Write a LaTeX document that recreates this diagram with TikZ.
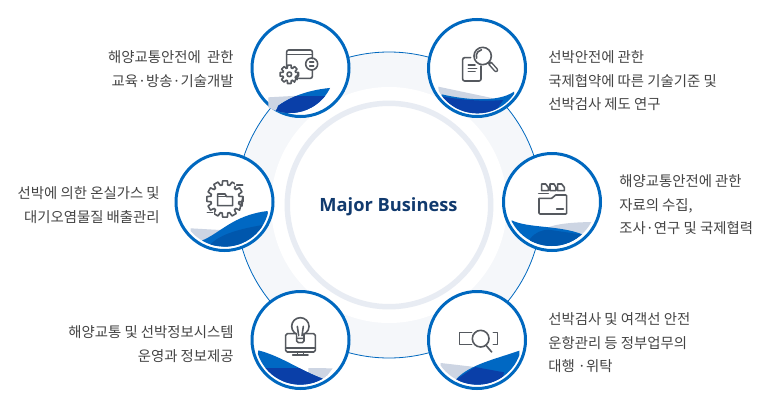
\documentclass[tikz,border=0pt]{standalone}
\usepackage{fontspec}
\setmainfont{Noto Sans CJK KR}
\newfontfamily\latinbold{Open Sans}
\definecolor{ringblue}{HTML}{0068BF}
\definecolor{band}{HTML}{F5F7FA}
\definecolor{ringgray}{HTML}{E8ECF3}
\definecolor{wgray}{HTML}{CDD5E3}
\definecolor{wblue}{HTML}{0068C3}
\definecolor{wdark}{HTML}{0A3FA8}
\definecolor{wmid}{HTML}{0057AD}
\definecolor{icon}{HTML}{55595F}
\definecolor{txt}{HTML}{444444}
\definecolor{navy}{HTML}{113A6E}
\tikzset{
 bub/.style={circle,draw=ringblue,line width=2.25pt,fill=white,minimum size=72.75pt,inner sep=0pt},
 lab/.style={text=txt,font=\fontsize{10.8pt}{17.7pt}\selectfont,inner sep=0pt},
 ico/.style={draw=icon,line width=1.2pt,line join=round,line cap=round},
 zoomed/.style={x=.25pt,y=-.25pt}
}
\newcommand{\gearicon}[5]{% cx cy outer inner teeth
 \draw[ico,fill=white] ({#1+#3*cos(-90/#5)},{#2+#3*sin(-90/#5)})
 foreach \i in {1,...,#5}{
   -- ({#1+#3*cos(\i*360/#5+90/#5)},{#2+#3*sin(\i*360/#5+90/#5)})
   -- ({#1+#4*cos(\i*360/#5+135/#5)},{#2+#4*sin(\i*360/#5+135/#5)})
   -- ({#1+#4*cos(\i*360/#5+225/#5)},{#2+#4*sin(\i*360/#5+225/#5)})
   -- ({#1+#3*cos(\i*360/#5+270/#5)},{#2+#3*sin(\i*360/#5+270/#5)})
 } -- cycle;}
\begin{document}
\begin{tikzpicture}[x=.75pt,y=-.75pt]
\useasboundingbox (0,0) rectangle (767,407);
\fill[white] (0,0) rectangle (767,407);
% central rings
\node[circle,draw=ringblue,line width=.6pt,fill=band,minimum size=229.5pt,inner sep=0pt] (outer) at (389,205) {};
\node[circle,fill=white,minimum size=177pt,inner sep=0pt] (inner) at (389,205) {};
\node[circle,draw=ringgray,line width=4.1pt,fill=white,minimum size=152.6pt,inner sep=0pt] (core) at (389,205) {};
\node[text=navy,font=\latinbold\bfseries\fontsize{13.7pt}{16pt}\selectfont,inner sep=0pt] (title) at (388.5,207) {Major Business};
% bubbles
\node[bub] (b1) at (300.5,68) {};
\node[bub] (b2) at (477,68) {};
\node[bub] (b3) at (224.5,202) {};
\node[bub] (b4) at (552,202) {};
\node[bub] (b5) at (300.5,340) {};
\node[bub] (b6) at (477,340) {};
% --- bubble 1
\begin{scope}[shift={(240,10)},zoomed]
 \begin{scope}
  \clip (150,175) circle[radius=134];
  \fill[wgray] (85,262) -- (175,257) -- (175,320) -- (85,320) -- cycle;
  \path[clip] (115,287) .. controls (160,255) and (220,235) .. (298,232) -- (300,320) -- (100,320) -- cycle;
  \fill[wblue] (90,220) rectangle (310,320);
  \fill[wdark] (90,258) rectangle (310,320);
 \end{scope}
 \draw[ico] (140,172) -- (140,126) arc[start angle=180,end angle=270,radius=6] -- (211,120) arc[start angle=270,end angle=360,radius=6] -- (217,146);
 \draw[ico] (217,180) -- (217,199) arc[start angle=0,end angle=90,radius=6] -- (176,205);
 \draw[ico] (140,133) -- (217,133);
 \draw[ico] (215,162) circle[radius=18];
 \draw[ico] (209,156) -- (221,156) (209,168) -- (221,168);
 \gearicon{148}{193}{28}{20}{8}
 \draw[ico] (148,193) circle[radius=7];
\end{scope}
% --- bubble 2
\begin{scope}[shift={(420,10)},zoomed]
 \begin{scope}
  \clip (172,176) circle[radius=134];
  \fill[wgray] (55,230) -- (225,266) -- (60,290) -- cycle;
  \path[clip] (65,253) .. controls (130,268) and (230,280) .. (282,245) -- (290,320) -- (50,320) -- cycle;
  \fill[wblue] (40,240) rectangle (300,320);
  \fill[wdark] (60,258) .. controls (120,270) and (190,275) .. (250,270) -- (215,320) -- (60,320) -- cycle;
 \end{scope}
 \draw[ico] (152,143) -- (134,143) arc[start angle=270,end angle=180,radius=6] -- (128,207) arc[start angle=180,end angle=90,radius=6] -- (177,213) arc[start angle=90,end angle=0,radius=6] -- (183,168);
 \draw[ico] (145,165) -- (165,165) (145,175) -- (170,175) (145,185) -- (165,185);
 \draw[icon,line width=3.4pt,line cap=round] (211,161) -- (228,180);
 \draw[white,line width=1.2pt,line cap=round] (213,163) -- (228,180);
 \draw[ico,fill=white] (188,138) circle[radius=26];
 \draw[ico] (170,144.5) arc[start angle=160,end angle=260,radius=19];
\end{scope}
% --- bubble 3
\begin{scope}[shift={(170,145)},zoomed]
 \begin{scope}
  \clip (164,171) circle[radius=134];
  \fill[wgray] (62,250) -- (150,255) -- (150,320) -- (62,320) -- cycle;
  \path[clip] (95,287) .. controls (150,265) and (190,210) .. (293,198) -- (300,320) -- (80,320) -- cycle;
  \fill[wblue] (60,190) rectangle (310,320);
  \fill[wmid] (120,300) .. controls (150,265) and (220,250) .. (278,240) -- (300,320) -- cycle;
 \end{scope}
 \gearicon{165}{162}{55}{43}{12}
 \draw[white,line width=3pt] (195,118) -- (222,118) (108,205) -- (132,205);
 \draw[ico] (200,120) -- (218,120) (112,203) -- (128,203);
 \draw[ico] (143,182) -- (143,147) -- (165,147) -- (170,155) -- (188,155) -- (188,182) -- cycle;
 \draw[ico] (170,155) -- (143,155);
\end{scope}
% --- bubble 4
\begin{scope}[shift={(495,145)},zoomed]
 \begin{scope}
  \clip (170,169) circle[radius=134];
  \fill[wgray] (148,252) .. controls (180,235) and (240,232) .. (290,231) -- (290,300) -- (148,300) -- cycle;
  \path[clip] (50,226) .. controls (100,250) and (190,240) .. (262,268) -- (240,320) -- (40,320) -- cycle;
  \fill[wblue] (40,220) rectangle (300,320);
  \fill[wmid] (105,282) .. controls (120,262) and (140,255) .. (160,254) -- (270,270) -- (240,320) -- (110,320) -- cycle;
 \end{scope}
 \draw[ico] (132,204) -- (132,160) -- (170,160) -- (182,150) -- (212,150) -- (215,153) -- (215,204) -- (212,207) -- (135,207) -- cycle;
 \draw[ico] (185,192) -- (205,192);
 \draw[ico] (131,145) -- (160,145);
 \draw[ico] (140,137) -- (140,117) -- (152,117) -- (160,127) -- (160,137) -- cycle;
 \draw[ico] (165,137) -- (165,117) -- (177,117) -- (183,127) -- (183,137) -- cycle;
 \draw[ico] (188,137) -- (188,117) -- (200,117) -- (208,127) -- (208,137) -- cycle;
\end{scope}
% --- bubble 5
\begin{scope}[shift={(240,283)},zoomed]
 \begin{scope}
  \clip (181,171) circle[radius=134];
  \fill[wgray] (205,255) -- (278,256) -- (245,300) -- (205,300) -- cycle;
  \path[clip] (55,202) .. controls (125,220) and (180,262) .. (248,287) -- (240,320) -- (40,320) -- cycle;
  \fill[wblue] (40,190) rectangle (300,320);
  \fill[wdark] (40,254) rectangle (300,320);
 \end{scope}
 \draw[ico,rounded corners=1.2pt] (137,152) rectangle (226,207);
 \draw[ico] (137,195) -- (226,195);
 \draw[ico] (172,207) -- (172,216) (190,207) -- (190,216) (158,216) -- (204,216);
 \draw[ico,fill=white] (181,130) circle[radius=26];
 \draw[ico,fill=white] (170,152) -- (170,174) arc[start angle=180,end angle=90,radius=5] -- (187,179) arc[start angle=90,end angle=0,radius=5] -- (192,152);
 \fill[white] (172,150) rectangle (190,160);
 \draw[ico] (172,130) -- (176,158) (190,130) -- (186,158) (170,166) -- (192,166);
\end{scope}
% --- bubble 6
\begin{scope}[shift={(420,283)},zoomed]
 \begin{scope}
  \clip (172,171) circle[radius=134];
  \fill[wgray] (62,240) -- (165,252) -- (120,300) -- (62,300) -- cycle;
  \path[clip] (110,287) .. controls (150,245) and (220,230) .. (298,203) -- (300,320) -- (100,320) -- cycle;
  \fill[wblue] (90,195) rectangle (310,320);
  \fill[wdark] (100,295) -- (165,252) -- (252,268) -- (240,320) -- (100,320) -- cycle;
 \end{scope}
 \draw[ico] (155,148) -- (118,148) -- (118,185) -- (155,185);
 \draw[ico] (220,148) -- (232,148) -- (232,185) -- (220,185);
 \draw[ico] (182,167) circle[radius=25];
 \draw[ico] (198,187) -- (215,207);
\end{scope}
% labels
\node[lab,align=right,anchor=east] (t1) at (234,69) {해양교통안전에\ \ 관한\\교육·방송·기술개발};
\node[lab,align=left,anchor=west] (t2) at (548,81) {선박안전에 관한\\국제협약에 따른 기술기준 및\\선박검사 제도 연구};
\node[lab,align=right,anchor=east] (t3) at (160,205) {선박에 의한 온실가스 및\\대기오염물질 배출관리};
\node[lab,align=left,anchor=west] (t4) at (619,205) {해양교통안전에 관한\\자료의 수집,\\조사·연구 및 국제협력};
\node[lab,align=right,anchor=east] (t5) at (234,344) {해양교통 및 선박정보시스템\\운영과 정보제공};
\node[lab,align=left,anchor=west] (t6) at (548,343) {선박검사 및 여객선 안전\\운항관리 등 정부업무의\\대행 ·위탁};
\end{tikzpicture}
\end{document}
